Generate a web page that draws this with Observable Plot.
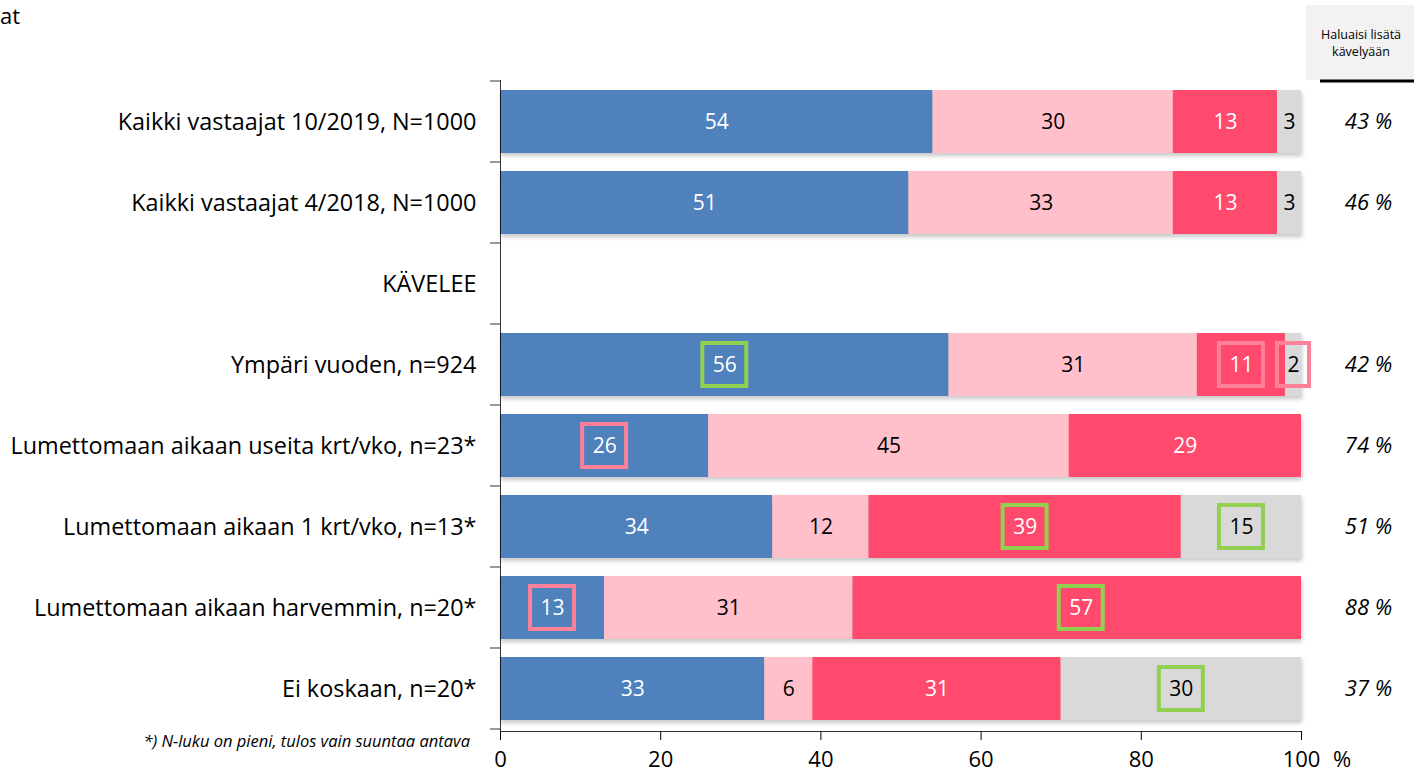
<!DOCTYPE html>
<html><head><meta charset="utf-8">
<script src="https://cdn.jsdelivr.net/npm/d3@7"></script>
<script src="https://cdn.jsdelivr.net/npm/@observablehq/plot@0.6"></script>
<style>
body{margin:0;background:#fff;}
#chart{position:relative;width:1414px;height:776px;overflow:hidden;}
</style></head><body><div id="chart"></div>
<script>
// ---- data ----
const rows = [
  "Kaikki vastaajat 10/2019, N=1000",
  "Kaikki vastaajat 4/2018, N=1000",
  "KÄVELEE",
  "Ympäri vuoden, n=924",
  "Lumettomaan aikaan useita krt/vko, n=23*",
  "Lumettomaan aikaan 1 krt/vko, n=13*",
  "Lumettomaan aikaan harvemmin, n=20*",
  "Ei koskaan, n=20*"
];
const seriesNames = ["Sarja 1", "Sarja 2", "Sarja 3", "Sarja 4"];
const s1 = [54, 51, null, 56, 26, 34, 13, 33];
const s2 = [30, 33, null, 31, 45, 12, 31, 6];
const s3 = [13, 13, null, 11, 29, 39, 57, 31];
const s4 = [3, 3, null, 2, 0, 15, 0, 30];
const wishes = ["43 %", "46 %", "", "42 %", "74 %", "51 %", "88 %", "37 %"];
const xTicks = [0, 20, 40, 60, 80, 100];
// highlighted labels: [row index, series index]
const greenBoxes = [[3, 0], [5, 2], [5, 3], [6, 2], [7, 3]];
const pinkBoxes = [[3, 2], [3, 3], [4, 0], [6, 0]];

const colors = ["#4F81BD", "#FFBFCB", "#FF4A6E", "#D9D9D9"];
const labelColors = ["#ffffff", "#000000", "#ffffff", "#000000"];
const FONT = "'Open Sans', 'Noto Sans', sans-serif";

const values = [s1, s2, s3, s4];
const data = [];
rows.forEach((r, i) => values.forEach((v, j) => {
  if (v[i] != null && v[i] > 0) data.push({row: r, series: seriesNames[j], value: v[i], si: j});
}));
function mid(i, j) { let c = 0; for (let k = 0; k < j; k++) c += values[k][i] || 0; return c + values[j][i] / 2; }
const boxes = [
  ...greenBoxes.map(([i, j]) => ({row: rows[i], x: mid(i, j), color: "#92D050", digits: String(values[j][i]).length})),
  ...pinkBoxes.map(([i, j]) => ({row: rows[i], x: mid(i, j), color: "#FF8099", digits: String(values[j][i]).length}))
];
const wishData = rows.map((r, i) => ({row: r, text: wishes[i]}));

const W = 1414, H = 776;
const plot = Plot.plot({
  width: W, height: H,
  marginLeft: 500, marginRight: 113, marginTop: 80, marginBottom: 45,
  style: {fontFamily: FONT, color: "#000", background: "transparent", overflow: "visible"},
  x: {domain: [0, 100], clamp: true},
  y: {domain: rows, paddingInner: 0.22, paddingOuter: 0.11},
  color: {domain: seriesNames, range: colors},
  marks: [
    Plot.barX(data, Plot.stackX({x: "value", y: "row", fill: "series"})),
    Plot.text(data, Plot.stackX({x: "value", y: "row", z: "series", text: d => String(d.value),
      fill: d => labelColors[d.si], fontSize: 21})),
    Plot.rect(boxes.filter(d => d.digits === 2), {x1: "x", x2: "x", y: "row", stroke: "color", strokeWidth: 4,
      fill: "none", insetLeft: -22, insetRight: -22, insetTop: 10, insetBottom: 10}),
    Plot.rect(boxes.filter(d => d.digits === 1), {x1: "x", x2: "x", y: "row", stroke: "color", strokeWidth: 4,
      fill: "none", insetLeft: -16, insetRight: -16, insetTop: 10, insetBottom: 10}),
    Plot.text(wishData, {y: "row", text: "text", frameAnchor: "right", textAnchor: "middle", dx: 67,
      fontSize: 22, fontStyle: "italic"}),
    Plot.frame({anchor: "bottom", stroke: "#000", strokeOpacity: 0.8}),
    Plot.frame({anchor: "left", stroke: "#000", strokeOpacity: 0.8}),
    Plot.axisX({ticks: xTicks, tickSize: 9, tickPadding: 11, fontSize: 22, label: null, stroke: "#000"}),
    Plot.axisY({tickSize: 0, tickPadding: 24, fontSize: 23.4, label: null})
  ]
});
document.getElementById("chart").appendChild(plot);

const svg = d3.select(plot);
svg.select('g[aria-label="bar"]').style("filter", "drop-shadow(1px 3px 2px rgba(0,0,0,0.22))");

// left axis band-boundary ticks
const ys = plot.scale("y");
const step = ys.step, bw = ys.bandwidth;
const bounds = rows.map(r => ys.apply(r) - (step - bw) / 2);
bounds.push(bounds[bounds.length - 1] + step);
const g = svg.append("g").attr("stroke", "#000").attr("stroke-opacity", 0.8);
bounds.forEach(b => g.append("line").attr("x1", 490).attr("x2", 500).attr("y1", b).attr("y2", b));

// header of right column
const hdr = svg.append("g").attr("font-family", FONT).attr("text-anchor", "middle");
hdr.append("rect").attr("x", 1306).attr("y", 5).attr("width", 108).attr("height", 75).attr("fill", "#F2F2F2");
hdr.append("line").attr("x1", 1320).attr("x2", 1414).attr("y1", 81).attr("y2", 81).attr("stroke", "#000").attr("stroke-width", 3);
hdr.append("text").attr("x", 1361).attr("y", 39).attr("font-size", 12.5).text("Haluaisi lisätä");
hdr.append("text").attr("x", 1361).attr("y", 56).attr("font-size", 12.5).text("kävelyään");

// other texts
svg.append("text").attr("x", 0).attr("y", 24).attr("text-anchor", "start").attr("font-family", FONT).attr("font-size", 22).text("at");
svg.append("text").attr("x", 1342).attr("y", 767).attr("text-anchor", "middle").attr("font-family", FONT).attr("font-size", 22).text("%");
svg.append("text").attr("x", 470).attr("y", 747).attr("text-anchor", "end").attr("font-family", FONT)
  .attr("font-size", 16.5).attr("font-style", "italic").text("*) N-luku on pieni, tulos vain suuntaa antava");
</script></body></html>
